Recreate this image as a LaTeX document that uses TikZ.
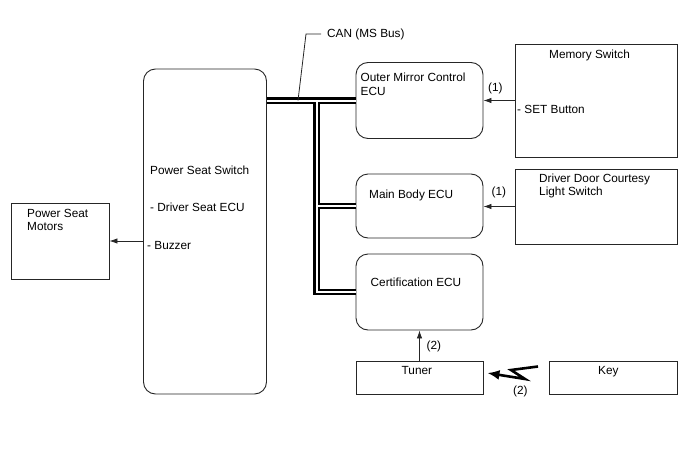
\documentclass[tikz,border=0pt]{standalone}
\usepackage{fontspec}
\setmainfont{Liberation Sans}
\usetikzlibrary{arrows.meta}

\tikzset{
  box/.style={draw=black!85, line width=0.9pt, inner sep=0pt},
  ecu/.style={box, rounded corners=12pt},
  lbl/.style={anchor=base west, inner sep=0pt},
  arr/.style={draw=black!85, line width=0.8pt, -{Latex[length=8pt,width=5.5pt]}},
  bolt/.style={line width=2.6pt, line join=miter, miter limit=20, -{Latex[length=12pt,width=10pt]}}
}

\begin{document}
\begin{tikzpicture}[x=1pt, y=-1pt,
    every node/.style={font=\fontsize{11.8}{13.5}\selectfont}]
  \useasboundingbox (0,0) rectangle (688,463);

  % boxes
  \node[box, minimum width=98pt, minimum height=76pt]   (motors) at (60,241) {};
  \node[ecu, minimum width=123pt, minimum height=325pt] (switch) at (205,231.5) {};
  \node[ecu, minimum width=127pt, minimum height=76pt]  (mirror) at (419.5,100.5) {};
  \node[ecu, minimum width=127pt, minimum height=64pt]  (body)   at (419.5,206) {};
  \node[ecu, minimum width=127pt, minimum height=76pt]  (cert)   at (419.5,292) {};
  \node[box, minimum width=162pt, minimum height=113pt] (memory) at (596,100.5) {};
  \node[box, minimum width=162pt, minimum height=75pt]  (door)   at (596,206.5) {};
  \node[box, minimum width=127pt, minimum height=33pt]  (tuner)  at (419.5,377.5) {};
  \node[box, minimum width=128pt, minimum height=33pt]  (key)    at (613,377.5) {};

  % texts
  \node[lbl] (motorsA) at (27,217)    {Power Seat};
  \node[lbl] (motorsB) at (27,230)    {Motors};
  \node[lbl] (switchA) at (150,174)   {Power Seat Switch};
  \node[lbl] (switchB) at (150,211.5) {- Driver Seat ECU};
  \node[lbl] (switchC) at (147,249.5) {- Buzzer};
  \node[lbl] (mirrorA) at (360.5,81)  {Outer Mirror Control};
  \node[lbl] (mirrorB) at (360.5,95)  {ECU};
  \node[lbl] (bodyA)   at (369,198)   {Main Body ECU};
  \node[lbl] (certA)   at (370.5,286.5) {Certification ECU};
  \node[lbl] (memoryA) at (549,58)    {Memory Switch};
  \node[lbl] (memoryB) at (517,113)   {- SET Button};
  \node[lbl] (doorA)   at (539,182)   {Driver Door Courtesy};
  \node[lbl] (doorB)   at (539,195)   {Light Switch};
  \node[lbl] (tunerA)  at (401.5,374) {Tuner};
  \node[lbl] (keyA)    at (598,374)   {Key};

  % CAN bus
  \coordinate (bj) at (316.5,100.5);
  \foreach \w/\c in {6.5pt/black, 2pt/white} {
      \draw[line width=\w, \c] (switch.east |- mirror.west) -- (mirror.west);
      \draw[line width=\w, \c, line join=miter] (bj) -- (bj |- cert.west) -- (cert.west);
      \draw[line width=\w, \c] (bj |- body.west) -- (body.west);
    }
  \node[lbl] (can) at (327,37) {CAN (MS Bus)};
  \coordinate (canp) at (298,100.5);
  \draw[black!85, line width=0.8pt] (canp) -- (306,34) -- ([xshift=-6pt]can.west);

  % signals
  \draw[arr] (motors.east -| switch.west) -- (motors.east);
  \draw[arr] (memory.west) -- (memory.west -| mirror.east);
  \draw[arr] (door.west) -- (door.west -| body.east);
  \draw[arr] (tuner.north) -- (cert.south);
  \coordinate (zs) at (538,366.5);
  \draw[bolt] (zs) -- (511,370) -- (525,379) -- ([xshift=4pt, yshift=4.5pt]tuner.east);

  \node[lbl] (sigA) at (488,91)  {(1)};
  \node[lbl] (sigB) at (491.5,195) {(1)};
  \node[lbl] (sigC) at (426.5,349) {(2)};
  \node[lbl] (sigD) at (513,394) {(2)};
\end{tikzpicture}
\end{document}
